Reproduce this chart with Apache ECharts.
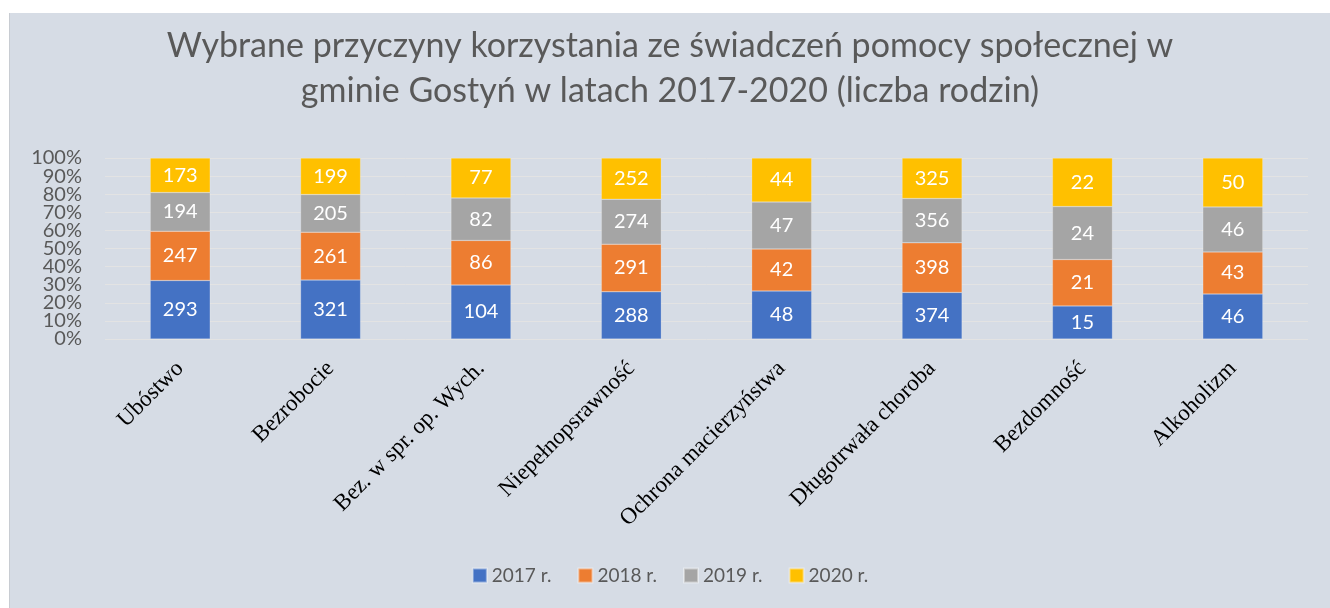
<!DOCTYPE html>
<html>
<head>
<meta charset="utf-8">
<script src="https://cdn.jsdelivr.net/npm/echarts@6/dist/echarts.min.js"></script>
<style>
  html, body { margin: 0; padding: 0; background: #ffffff; }
  #chart { position: absolute; left: 9px; top: 13px; width: 1321px; height: 595px; border-left: 1px solid #c8ccd2; box-sizing: border-box; }
</style>
</head>
<body>
<div id="chart"></div>
<script>
const categories = ["Ubóstwo", "Bezrobocie", "Bez. w spr. op. Wych.", "Niepełnopsrawność", "Ochrona macierzyństwa", "Długotrwała choroba", "Bezdomność", "Alkoholizm"]
const years = ["2017 r.", "2018 r.", "2019 r.", "2020 r."]
const v2017 = [293, 321, 104, 288, 48, 374, 15, 46]
const v2018 = [247, 261, 86, 291, 42, 398, 21, 43]
const v2019 = [194, 205, 82, 274, 47, 356, 24, 46]
const v2020 = [173, 199, 77, 252, 44, 325, 22, 50]
const colors = ["#4472c4", "#ed7d31", "#a5a5a5", "#ffc000"]

const raw = [v2017, v2018, v2019, v2020]
// sumy dla wykresu 100%
const totals = categories.map((c, i) => raw.reduce((s, arr) => s + arr[i], 0))

const yLabel = {
  formatter: "{value}%",
  margin: 23,
  fontFamily: "Lato",
  fontSize: 20,
  color: "#595959"
}

const myChart = echarts.init(document.getElementById("chart"))

myChart.setOption({
  backgroundColor: "#d6dce5",
  animation: false,
  title: {
    text: "Wybrane przyczyny korzystania ze świadczeń pomocy społecznej w\ngminie Gostyń w latach 2017-2020 (liczba rodzin)",
    left: "center",
    top: 6,
    padding: [5, 10, 5, 0],
    textStyle: {
      fontFamily: "Lato",
      fontWeight: "normal",
      fontSize: 34,
      lineHeight: 45,
      color: "#595959"
    }
  },
  legend: {
    data: years,
    bottom: 18,
    left: "center",
    itemWidth: 14,
    itemHeight: 14,
    itemGap: 26,
    icon: "rect",
    textStyle: { fontFamily: "Lato", fontSize: 19, color: "#595959" }
  },
  grid: {
    left: 95,
    right: 22,
    top: 145,
    bottom: 269,
    containLabel: false
  },
  xAxis: {
    type: "category",
    data: categories,
    axisLine: { show: false },
    axisTick: { show: false },
    axisLabel: {
      rotate: 45,
      interval: 0,
      margin: 26,
      fontFamily: "Liberation Serif",
      fontSize: 23,
      color: "#000000"
    }
  },
  yAxis: [
    {
      // etykiety 10%..90% i linie siatki
      type: "value",
      min: 0,
      max: 100,
      interval: 10,
      axisLine: { show: false },
      axisTick: { show: false },
      splitLine: { lineStyle: { color: "#e3e3e3", width: 1 } },
      axisLabel: { ...yLabel, showMinLabel: false, showMaxLabel: false }
    },
    {
      // tylko 0% i 100%
      type: "value",
      position: "left",
      min: 0,
      max: 100,
      interval: 100,
      axisLine: { show: false },
      axisTick: { show: false },
      splitLine: { show: false },
      axisLabel: yLabel
    }
  ],
  series: raw.map((arr, k) => ({
    name: years[k],
    type: "bar",
    stack: "total",
    barWidth: 60,
    data: arr.map((v, i) => ({ value: v / totals[i] * 100, raw: v })),
    itemStyle: { color: colors[k], borderColor: "rgba(255,255,255,0.4)", borderWidth: 0.5 },
    label: {
      show: true,
      position: "inside",
      formatter: (p) => p.data.raw,
      fontFamily: "Lato",
      fontSize: 20,
      color: "#ffffff"
    }
  }))
})
</script>
</body>
</html>
